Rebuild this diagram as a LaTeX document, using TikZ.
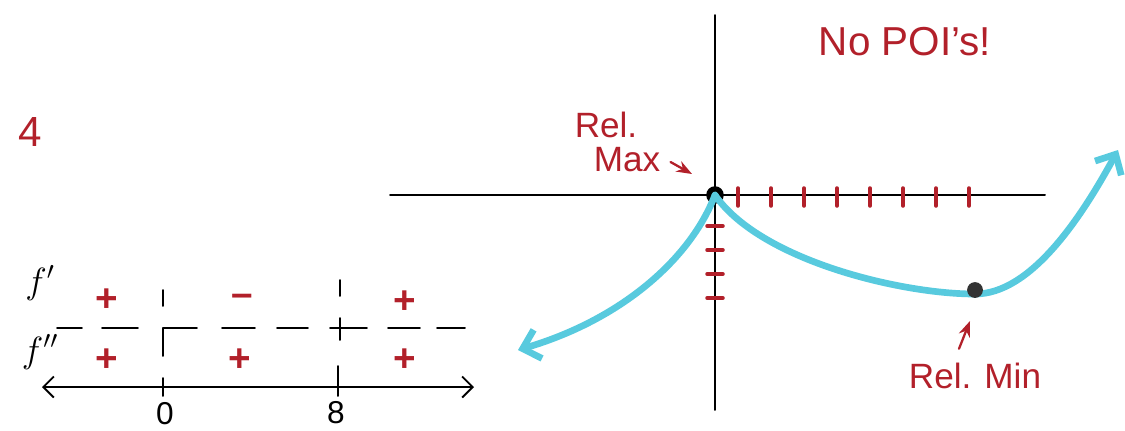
\documentclass[tikz,border=0pt]{standalone}
\usepackage{fontspec}
\setmainfont{Liberation Sans}
\usetikzlibrary{arrows.meta, positioning}
\definecolor{ink}{RGB}{178,32,42}
\definecolor{aqua}{RGB}{88,202,222}

\begin{document}
\begin{tikzpicture}[x=0.02cm,y=-0.02cm,>=Stealth,line cap=round,
    lbl/.style={text=ink,font=\fontsize{20}{22}\selectfont,inner sep=0pt},
    sgn/.style={text=ink,font=\bfseries\fontsize{22}{22}\selectfont,inner sep=0pt},
    rowlbl/.style={font=\fontsize{20}{20}\selectfont,inner sep=0pt},
    curve/.style={aqua,line width=3.8pt,-{Straight Barb[length=9pt,width=17pt]}},
    dot/.style={circle,fill=black,inner sep=0pt,minimum size=#1},
    axis/.style={black,line width=1.1pt},
    redtick/.style={ink,line width=2pt}]
  \useasboundingbox (0,0) rectangle (1125,430);

  % sign chart
  \node[lbl,font=\fontsize{24}{24}\selectfont] (four) at (30,132) {4};
  \node[rowlbl] (fp) at (40,283) {$f'$};
  \node[rowlbl] (fpp) at (40,352) {$f''$};
  \node[sgn] (s1) at (107,300) {+};
  \node[sgn] (s2) at (242,300) {--};
  \node[sgn] (s3) at (405,302) {+};
  \node[sgn] (s4) at (107,360) {+};
  \node[sgn] (s5) at (240,360) {+};
  \node[sgn] (s6) at (405,360) {+};
  \foreach \a/\b in {57/82,102/138,163/197,222/255,277/308,330/367,388/420,437/465}
    \draw[line width=1.1pt] (\a,328) -- (\b,328);
  \draw[line width=1.1pt] (163,290) -- (163,306) (163,328) -- (163,356);
  \draw[line width=1.1pt] (340,280) -- (340,296) (340,318) -- (340,340);
  \coordinate (nl-l) at (42,387);
  \coordinate (nl-r) at (474,387);
  \draw[axis,{Straight Barb[length=6pt,width=12pt]}-{Straight Barb[length=6pt,width=12pt]}] (nl-l) -- (nl-r);
  \draw[line width=1.1pt] (163,378) -- (163,396) (338,366) -- (338,396);
  \node[rowlbl,font=\fontsize{18}{18}\selectfont] (zero) at (165,414) {0};
  \node[rowlbl,font=\fontsize{18}{18}\selectfont] (eight) at (336,413) {8};

  % graph
  \coordinate (y-top) at (715,15);
  \coordinate (y-bot) at (715,410);
  \coordinate (x-lft) at (390,195);
  \coordinate (x-rgt) at (1045,195);
  \draw[axis] (y-top) -- (y-bot);
  \draw[axis] (x-lft) -- (x-rgt);
  \foreach \i in {0,...,7}
    \draw[redtick] (738+33*\i,188) -- (738+33*\i,206);
  \foreach \j in {0,...,3}
    \draw[redtick] (707,226+24*\j) -- (723,226+24*\j);
  \node[dot=10pt] (max) at (715,195) {};
  \coordinate (lft-end) at (518,350);
  \coordinate (rgt-end) at (1118,150);
  \draw[curve] (max.center) .. controls (690,260) and (620,320) .. (lft-end);
  \draw[curve] (max.center) .. controls (760,260) and (900,294) .. (975,294)
    .. controls (1030,294) and (1080,220) .. (rgt-end);
  \node[dot=9pt,fill=black!80] (min) at (975,290) {};

  % labels
  \node[lbl,font=\fontsize{23}{25}\selectfont] (poi) at (905,42) {No POI's!};
  \node[lbl] (rel1) at (606,125) {Rel.};
  \node[lbl] (maxlbl) at (627,160) {Max};
  \node[lbl] (minlbl) at (975,376) {Rel. Min};
  \coordinate (max-tip) at (692,174);
  \coordinate (min-tip) at (970,321);
  \draw[->,redtick,line width=1.3pt] (maxlbl.east) ++(10,2) -- (max-tip);
  \draw[->,redtick,line width=1.3pt] (minlbl.north) ++(-16,-14) -- (min-tip);
\end{tikzpicture}
\end{document}
